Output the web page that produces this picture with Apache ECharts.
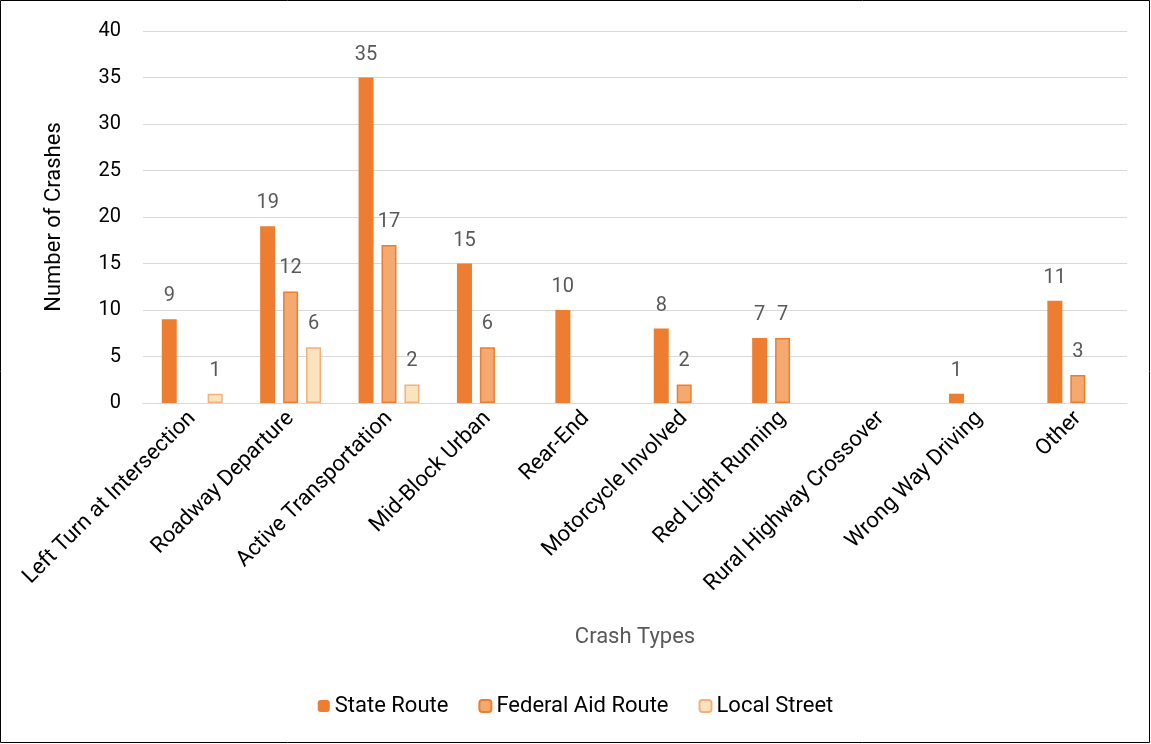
<!DOCTYPE html>
<html><head><meta charset="utf-8">
<script src="https://cdn.jsdelivr.net/npm/echarts@6/dist/echarts.min.js"></script>
<style>html,body{margin:0;padding:0;background:#fff}#c{width:1151px;height:744px}</style>
</head><body><div id="c"></div>
<script>
const categories = ["Left Turn at Intersection","Roadway Departure","Active Transportation","Mid-Block Urban","Rear-End","Motorcycle Involved","Red Light Running","Rural Highway Crossover","Wrong Way Driving","Other"];
const stateRoute = [9,19,35,15,10,8,7,null,1,11];
const federalAid = [null,12,17,6,null,2,7,null,null,3];
const localStreet = [1,6,2,null,null,null,null,null,null,null];
const yTicks = [0,5,10,15,20,25,30,35,40];

const FONT = "Roboto, sans-serif";
const chart = echarts.init(document.getElementById('c'), null, {renderer:'canvas'});
const lbl = {show:true, position:'top', distance:13, color:'#595959', fontSize:20, fontFamily:FONT};
chart.setOption({
  animation:false,
  textStyle:{fontFamily:FONT},
  graphic:[{type:'rect', shape:{x:0.5,y:0.5,width:1149,height:742}, style:{fill:'none', stroke:'#000', lineWidth:1}, silent:true}],
  grid:{left:143, right:24, top:31, bottom:341},
  legend:{bottom:22, left:'center', itemWidth:12, itemHeight:12, itemGap:30,
    textStyle:{fontSize:22, color:'#000', fontFamily:FONT},
    data:['State Route','Federal Aid Route','Local Street']},
  xAxis:{type:'category', data:categories,
    axisLine:{lineStyle:{color:'#D9D9D9', width:1}}, axisTick:{show:false},
    axisLabel:{rotate:45, interval:0, fontSize:22, color:'#000', margin:12, fontFamily:FONT},
    name:'Crash Types', nameLocation:'middle', nameGap:223,
    nameTextStyle:{fontSize:22, color:'#595959', fontFamily:FONT}},
  yAxis:{type:'value', min:yTicks[0], max:yTicks[yTicks.length-1], interval:5,
    axisLine:{show:false}, axisTick:{show:false},
    splitLine:{lineStyle:{color:'#D9D9D9', width:1}},
    axisLabel:{fontSize:20, color:'#000', margin:22, fontFamily:FONT},
    name:'Number of Crashes', nameLocation:'middle', nameGap:78, nameRotate:90,
    nameTextStyle:{fontSize:22, color:'#000', fontFamily:FONT}},
  series:[
    {name:'State Route', type:'bar', data:stateRoute, barWidth:15, barGap:'53%', barCategoryGap:'38%',
     itemStyle:{color:'#ED7D31'}, label:lbl},
    {name:'Federal Aid Route', type:'bar', data:federalAid, barWidth:15,
     itemStyle:{color:'#F4A970', borderColor:'#ED7D31', borderWidth:1.5}, label:lbl},
    {name:'Local Street', type:'bar', data:localStreet, barWidth:15,
     itemStyle:{color:'#FBE4BD', borderColor:'#F5B07A', borderWidth:1.5}, label:lbl}
  ]
});
</script></body></html>
